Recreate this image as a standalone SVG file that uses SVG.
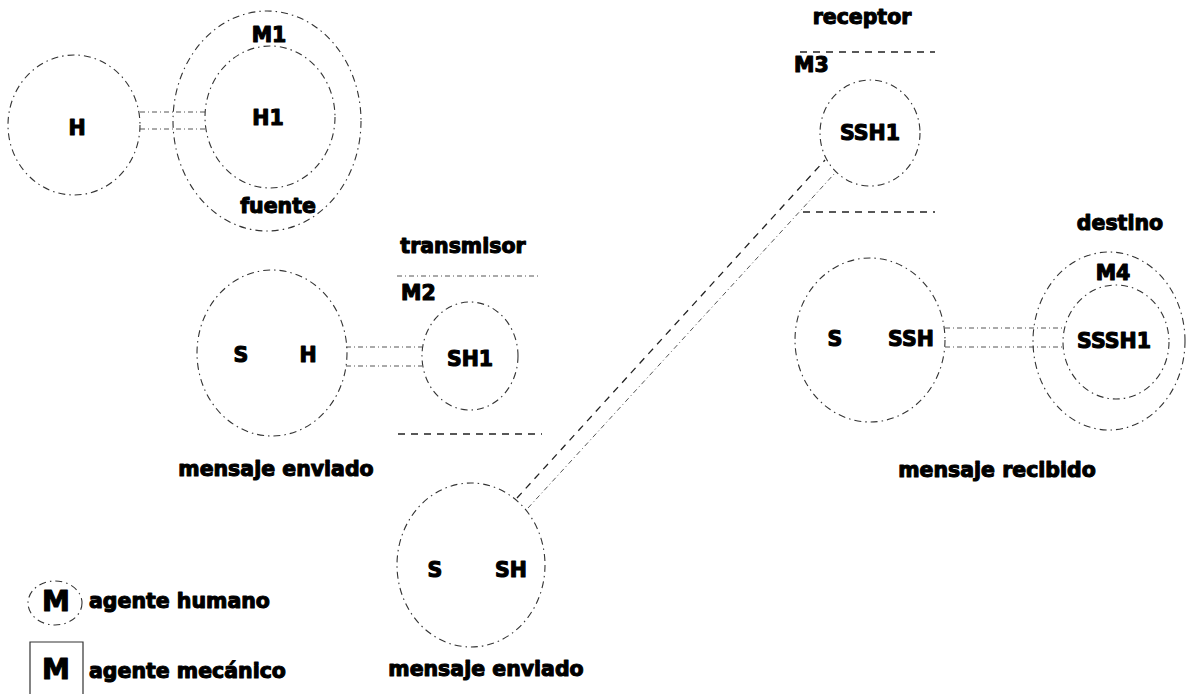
<svg xmlns="http://www.w3.org/2000/svg" width="1186" height="694" viewBox="0 0 1186 694">
<style>
.c{fill:none;stroke:#333;stroke-width:1.1;stroke-dasharray:7 4 1.5 4}
.l{fill:none;stroke:#555;stroke-width:1;stroke-dasharray:5 3 1 3}
.d{fill:none;stroke:#222;stroke-width:1.3;stroke-dasharray:7 6}
.t{font-family:"DejaVu Sans","Liberation Sans",sans-serif;font-weight:bold;font-size:20.5px;fill:#000;stroke:#000;stroke-width:1.1;stroke-linejoin:round;text-anchor:middle}
.s{text-anchor:start}
</style>
<rect width="1186" height="694" fill="#fff"/>
<g id="connectors">
<line class="l" x1="140" y1="112" x2="206" y2="112"/>
<line class="l" x1="140" y1="129" x2="206" y2="129"/>
<line class="l" x1="346" y1="347" x2="422" y2="347"/>
<line class="l" x1="346" y1="366" x2="422" y2="366"/>
<line class="l" x1="945" y1="328" x2="1063" y2="328"/>
<line class="l" x1="945" y1="347" x2="1063" y2="347"/>
<line class="d" x1="517" y1="498" x2="825" y2="160"/>
<line class="l" x1="528" y1="508" x2="835" y2="173"/>
</g>
<g id="node-H">
<ellipse class="c" cx="74" cy="125" rx="66" ry="70"/>
<text class="t" x="77" y="135">H</text>
</g>
<g id="node-M1">
<ellipse class="c" cx="267" cy="121" rx="94" ry="110"/>
<ellipse class="c" cx="270" cy="117" rx="65" ry="71"/>
<text class="t" x="269" y="42">M1</text>
<text class="t" x="268" y="125">H1</text>
<text class="t" x="278" y="213">fuente</text>
</g>
<g id="node-SH">
<ellipse class="c" cx="272" cy="353" rx="75" ry="83"/>
<text class="t" x="241" y="362">S</text>
<text class="t" x="308" y="362">H</text>
<text class="t" x="276" y="476">mensaje enviado</text>
</g>
<g id="node-M2">
<text class="t" x="463" y="253">transmisor</text>
<line class="l" x1="397" y1="276" x2="541" y2="276"/>
<text class="t s" x="401" y="300">M2</text>
<ellipse class="c" cx="470" cy="356" rx="48" ry="54"/>
<text class="t" x="470" y="366">SH1</text>
<line class="d" x1="398" y1="434" x2="542" y2="434"/>
</g>
<g id="node-SSH">
<ellipse class="c" cx="471" cy="565" rx="74" ry="82"/>
<text class="t" x="435" y="577">S</text>
<text class="t" x="511" y="577">SH</text>
<text class="t" x="486" y="676">mensaje enviado</text>
</g>
<g id="node-M3">
<text class="t" x="862" y="24">receptor</text>
<line class="d" x1="800" y1="52" x2="935" y2="52"/>
<text class="t s" x="794" y="72">M3</text>
<ellipse class="c" cx="870" cy="133" rx="50" ry="53"/>
<text class="t" x="870" y="140">SSH1</text>
<line class="d" x1="803" y1="212" x2="935" y2="212"/>
</g>
<g id="node-SSSH">
<ellipse class="c" cx="870" cy="340" rx="75" ry="82"/>
<text class="t" x="835" y="346">S</text>
<text class="t" x="911" y="346">SSH</text>
<text class="t" x="997" y="477">mensaje recibido</text>
</g>
<g id="node-M4">
<text class="t" x="1120" y="230">destino</text>
<ellipse class="c" cx="1109" cy="341" rx="76" ry="89"/>
<ellipse class="c" cx="1116" cy="342" rx="53" ry="57"/>
<text class="t" x="1113" y="280">M4</text>
<text class="t" x="1114" y="348">SSSH1</text>
</g>
<g id="legend">
<ellipse class="c" cx="55" cy="603" rx="27" ry="22"/>
<text class="t" x="56" y="611" style="font-size:28px">M</text>
<text class="t s" x="89" y="608">agente humano</text>
<path d="M30,694 V642 H83 V694" fill="none" stroke="#333" stroke-width="1.2"/>
<text class="t" x="56" y="679" style="font-size:28px">M</text>
<text class="t s" x="89" y="678">agente mecánico</text>
</g>
</svg>
